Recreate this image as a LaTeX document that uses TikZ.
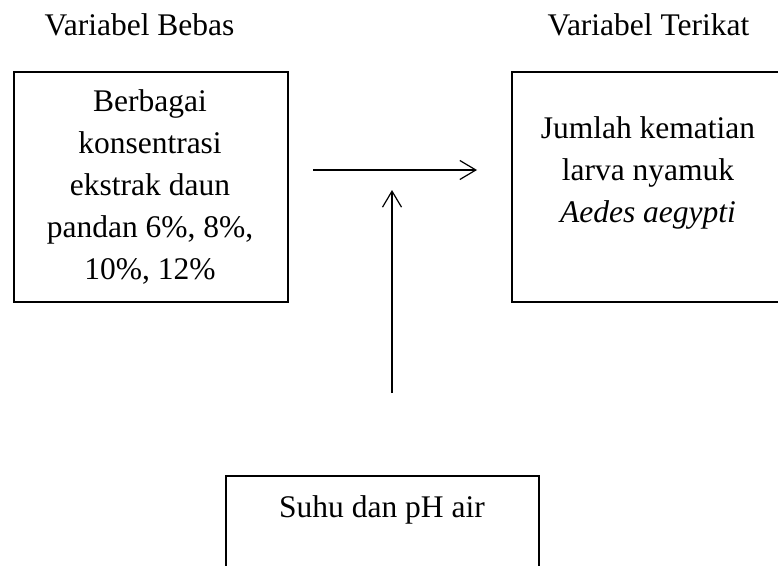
\documentclass[tikz,border=0pt]{standalone}
\usepackage{fontspec}
\setmainfont{Liberation Serif}
\usetikzlibrary{arrows.meta}
\begin{document}
\begin{tikzpicture}[x=1pt,y=-1pt,
  box/.style={draw, line width=2.3pt, rectangle, inner sep=0pt},
  txt/.style={font=\fontsize{31.5}{42}\selectfont, inner sep=0pt, align=center},
  conn/.style={line width=1.2pt, -{Straight Barb[length=16pt,width=19pt]}}]
\useasboundingbox (0,0) rectangle (778,565);
% headings
\node[txt, anchor=base] (hbebas) at (139.5,35) {Variabel Bebas};
\node[txt, anchor=base] (hterikat) at (648.5,35) {Variabel Terikat};
% boxes
\node[box, minimum width=274pt, minimum height=230pt] (bebas) at (151,187) {};
\node[box, minimum width=288pt, minimum height=230pt] (terikat) at (656,187) {};
\node[box, minimum width=313pt, minimum height=124pt] (kontrol) at (382.5,538) {};
% texts
\node[txt] (tbebas) at (150,187) {Berbagai\\konsentrasi\\ekstrak daun\\pandan 6\%, 8\%,\\10\%, 12\%};
\node[txt] (tterikat) at (648,173) {Jumlah kematian\\larva nyamuk\\\textit{Aedes aegypti}};
\node[txt, anchor=base] (tkontrol) at (382,517) {Suhu dan pH air};
% connectors
\coordinate (h1) at (313,170);
\coordinate (h2) at (477,170);
\coordinate (v1) at (392,393);
\coordinate (v2) at (392,190);
\draw[conn] (h1) -- (h2);
\draw[conn] (v1) -- (v2);
\end{tikzpicture}
\end{document}
